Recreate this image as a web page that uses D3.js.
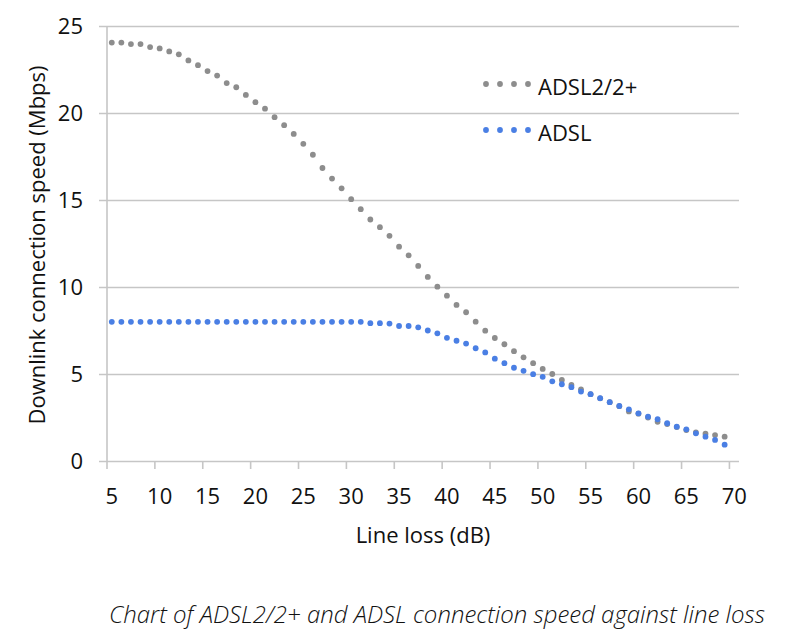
<!DOCTYPE html>
<html>
<head>
<meta charset="utf-8">
<script src="https://cdn.jsdelivr.net/npm/d3@7"></script>
<style>
  body { margin: 0; background: #fff; }
  #chart { position: absolute; left: 0; top: 0; }
  text { font-family: "Open Sans", sans-serif; fill: #111; }
</style>
</head>
<body>
<div id="chart"></div>
<script>
"use strict";

// line loss categories on the x axis (dB)
var lineLoss = [5, 6, 7, 8, 9, 10, 11, 12, 13, 14, 15, 16, 17, 18, 19, 20, 21, 22, 23, 24, 25,
    26, 27, 28, 29, 30, 31, 32, 33, 34, 35, 36, 37, 38, 39, 40, 41, 42, 43, 44, 45, 46, 47, 48,
    49, 50, 51, 52, 53, 54, 55, 56, 57, 58, 59, 60, 61, 62, 63, 64, 65, 66, 67, 68, 69, 70];

var xTickLabels = [5, 10, 15, 20, 25, 30, 35, 40, 45, 50, 55, 60, 65, 70];
var yTickLabels = [0, 5, 10, 15, 20, 25];

// speeds in Mbps, one value per dB from 5 to 69
var adsl2Speed = [24.05, 24.05, 23.96, 23.96, 23.79, 23.71, 23.54, 23.37, 23.02, 22.75,
    22.41, 22.15, 21.72, 21.48, 21.04, 20.62, 20.25, 19.76, 19.30, 18.80,
    18.23, 17.60, 16.84, 16.23, 15.67, 15.05, 14.47, 13.88, 13.44, 12.94,
    12.32, 11.82, 11.21, 10.58, 10.02, 9.50, 8.97, 8.55, 8.01, 7.49,
    7.07, 6.71, 6.31, 5.96, 5.62, 5.29, 5.00, 4.66, 4.37, 4.12,
    3.84, 3.60, 3.38, 3.15, 2.85, 2.72, 2.50, 2.25, 2.12, 1.95,
    1.78, 1.64, 1.57, 1.49, 1.40];

var adslSpeed = [8.0, 8.0, 8.0, 8.0, 8.0, 8.0, 8.0, 8.0, 8.0, 8.0,
    8.0, 8.0, 8.0, 8.0, 8.0, 8.0, 8.0, 8.0, 8.0, 8.0,
    8.0, 8.0, 8.0, 8.0, 8.0, 8.0, 8.0, 7.92, 7.92, 7.90,
    7.76, 7.76, 7.68, 7.50, 7.34, 7.08, 6.91, 6.75, 6.48, 6.24,
    5.88, 5.62, 5.36, 5.18, 4.99, 4.84, 4.58, 4.41, 4.24, 3.99,
    3.84, 3.61, 3.38, 3.16, 2.97, 2.74, 2.55, 2.40, 2.17, 1.97,
    1.82, 1.59, 1.40, 1.21, 0.94];

var seriesNames = ["ADSL2/2+", "ADSL"];
var seriesColors = ["#8d8d8d", "#4a7fe4"];

function drawChart()
{
    var w = 797;
    var h = 643;
    var left = 107, right = 739, top = 26, bottom = 461;

    var svg = d3.select("#chart")
                .append("svg")
                .attr("width", w)
                .attr("height", h);

    var x = d3.scaleBand()
              .domain(lineLoss)
              .range([left, right]);
    var bw = x.bandwidth();

    var y = d3.scaleLinear()
              .domain([0, 25])
              .range([bottom, top]);

    // horizontal gridlines + y labels
    var yAxis = svg.append("g")
        .attr("transform", "translate(99,0)")
        .call(d3.axisLeft(y)
            .tickValues(yTickLabels)
            .tickSize(-(right - 99))
            .tickPadding(16));
    yAxis.select(".domain").remove();
    yAxis.selectAll("line")
        .attr("stroke", "#c6c6c6")
        .attr("stroke-width", 1.6);
    yAxis.selectAll("text")
        .style("font-size", "22px")
        .attr("fill", "#111");

    // vertical axis line
    svg.append("line")
        .attr("x1", left).attr("x2", left)
        .attr("y1", y(25)).attr("y2", y(0))
        .attr("stroke", "#c6c6c6")
        .attr("stroke-width", 1.6);

    // x tick marks sit between categories
    svg.selectAll(".xtick")
        .data(xTickLabels)
        .enter().append("line")
        .attr("class", "xtick")
        .attr("x1", function(d) { return x(d); })
        .attr("x2", function(d) { return x(d); })
        .attr("y1", bottom)
        .attr("y2", bottom + 8)
        .attr("stroke", "#c6c6c6")
        .attr("stroke-width", 1.6);

    // x labels at category centres
    var xAxis = svg.append("g")
        .attr("transform", "translate(0," + bottom + ")")
        .call(d3.axisBottom(x)
            .tickValues(xTickLabels)
            .tickSize(0)
            .tickPadding(27));
    xAxis.select(".domain").remove();
    xAxis.selectAll("text")
        .style("font-size", "22px")
        .attr("fill", "#111");

    // axis titles
    svg.append("text")
        .attr("x", 423)
        .attr("y", 543)
        .attr("text-anchor", "middle")
        .style("font-size", "22px")
        .text("Line loss (dB)");

    svg.append("text")
        .attr("transform", "translate(45,245) rotate(-90)")
        .attr("text-anchor", "middle")
        .style("font-size", "22px")
        .text("Downlink connection speed (Mbps)");

    // dots, ADSL2/2+ first so ADSL sits on top
    var series = [adsl2Speed, adslSpeed];
    series.forEach(function(values, s) {
        svg.append("g")
            .selectAll("circle")
            .data(values)
            .enter().append("circle")
            .attr("cx", function(d, i) { return x(lineLoss[i]) + bw / 2; })
            .attr("cy", function(d) { return y(d); })
            .attr("r", 2.9)
            .attr("fill", seriesColors[s]);
    });

    // legend
    var legend = svg.selectAll(".legend")
        .data(seriesNames)
        .enter().append("g")
        .attr("class", "legend")
        .attr("transform", function(d, i) {
            return "translate(486," + (84 + i * 46) + ")";
        });

    legend.each(function(d, i) {
        d3.select(this).selectAll("circle")
            .data([0, 1, 2, 3])
            .enter().append("circle")
            .attr("cx", function(k) { return k * 14; })
            .attr("cy", 0)
            .attr("r", 2.9)
            .attr("fill", seriesColors[i]);
    });

    legend.append("text")
        .attr("x", 52)
        .attr("y", 11)
        .style("font-size", "22px")
        .text(function(d) { return d; });

    // caption
    svg.append("text")
        .attr("x", 437)
        .attr("y", 623)
        .attr("text-anchor", "middle")
        .style("font-size", "24px")
        .style("font-style", "italic")
        .style("font-weight", "300")
        .attr("fill", "#222")
        .text("Chart of ADSL2/2+ and ADSL connection speed against line loss");
}

window.addEventListener('load', function (){
    drawChart();
});
</script>
</body>
</html>
